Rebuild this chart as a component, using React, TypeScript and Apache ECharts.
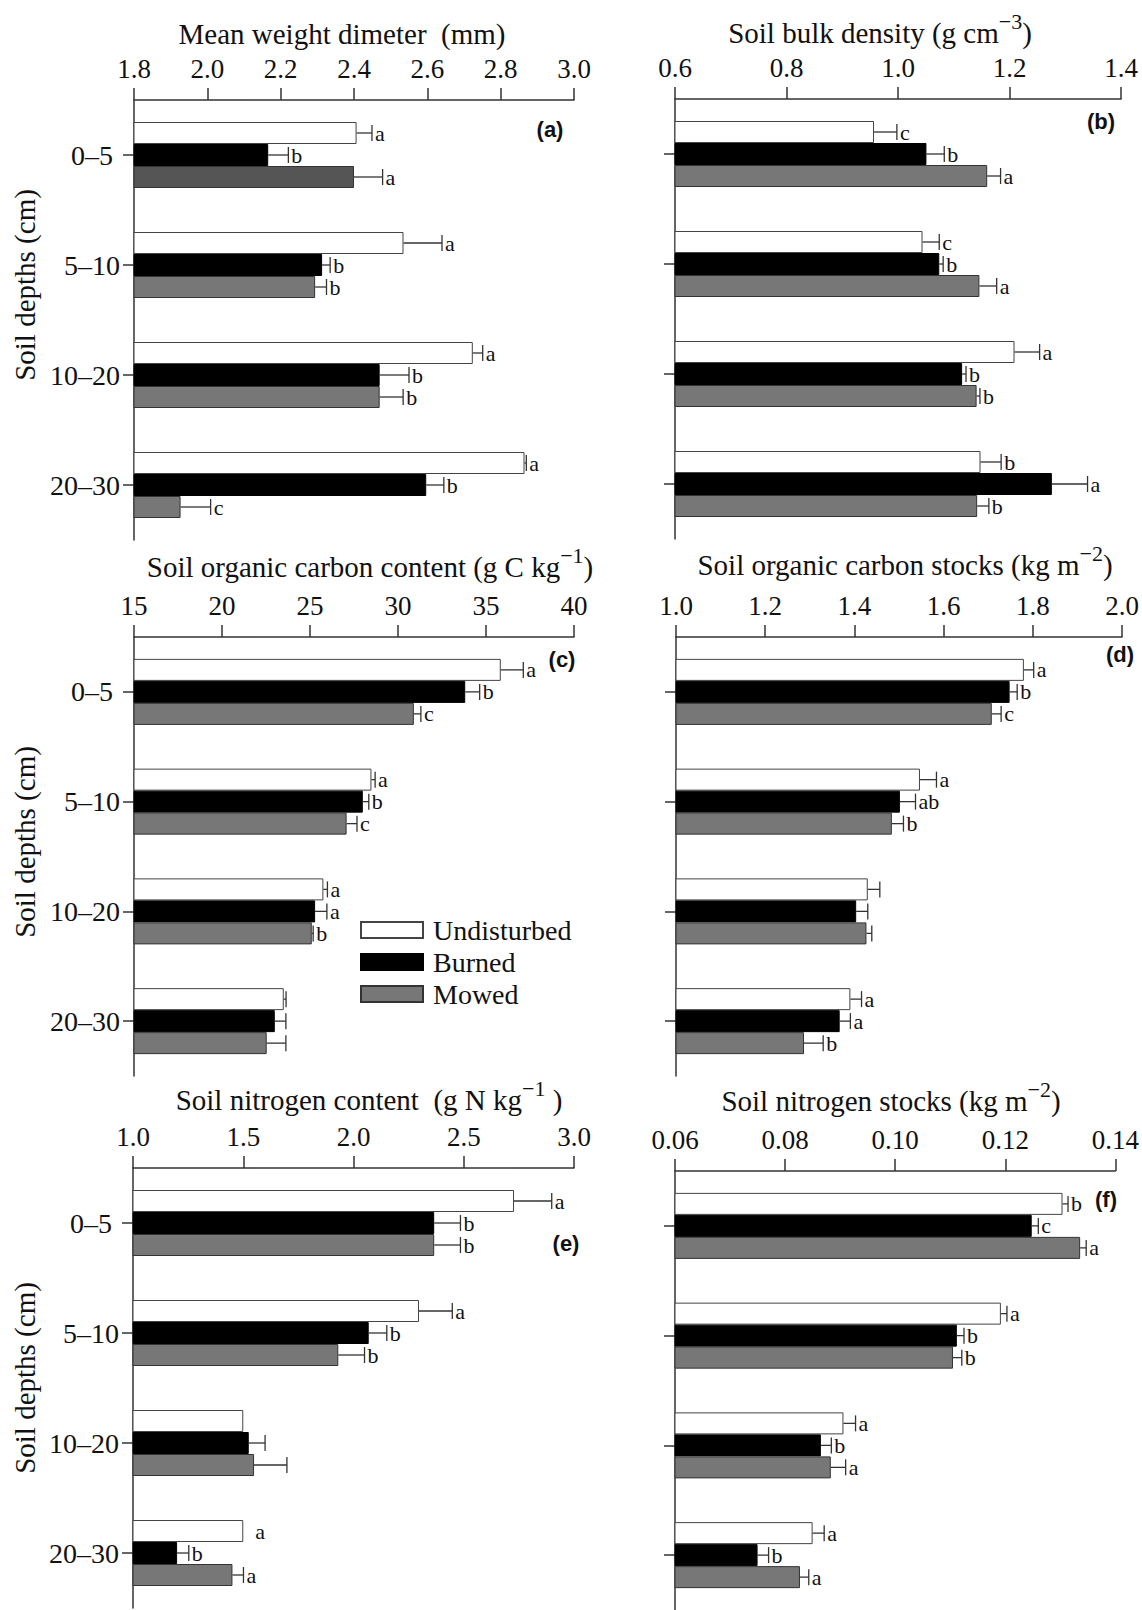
import React, { useEffect, useRef } from 'react';
import * as echarts from 'echarts';

// ---------- data ----------
const depths = ['0–5', '5–10', '10–20', '20–30'];
const treatments = ['Undisturbed', 'Burned', 'Mowed'];

// (a) Mean weight diameter (mm)  rows: Undisturbed, Burned, Mowed
const mwdMeans = [
  [2.407, 2.535, 2.724, 2.865],
  [2.166, 2.313, 2.470, 2.597],
  [2.400, 2.294, 2.470, 1.927],
];
const mwdErrors = [
  [0.042, 0.105, 0.027, 0.005],
  [0.055, 0.022, 0.080, 0.048],
  [0.078, 0.031, 0.064, 0.082],
];
const mwdLetters = [
  ['a', 'a', 'a', 'a'],
  ['b', 'b', 'b', 'b'],
  ['a', 'b', 'b', 'c'],
];

// (b) Soil bulk density
const bdMeans = [
  [0.957, 1.044, 1.209, 1.148],
  [1.051, 1.074, 1.115, 1.276],
  [1.160, 1.146, 1.141, 1.142],
];
const bdErrors = [
  [0.041, 0.030, 0.045, 0.037],
  [0.032, 0.007, 0.007, 0.064],
  [0.024, 0.031, 0.006, 0.021],
];
const bdLetters = [
  ['c', 'c', 'a', 'b'],
  ['b', 'b', 'b', 'a'],
  ['a', 'a', 'b', 'b'],
];

// (c) Soil organic carbon content
const socMeans = [
  [35.84, 28.49, 25.76, 23.51],
  [33.82, 28.0, 25.29, 23.0],
  [30.9, 27.08, 25.1, 22.54],
];
const socErrors = [
  [1.28, 0.21, 0.23, 0.13],
  [0.82, 0.34, 0.67, 0.63],
  [0.4, 0.59, 0.08, 1.09],
];
const socLetters = [
  ['a', 'a', 'a', ''],
  ['b', 'b', 'a', ''],
  ['c', 'c', 'b', ''],
];

// (d) Soil organic carbon stocks
const socsMeans = [
  [1.78, 1.547, 1.43, 1.391],
  [1.748, 1.502, 1.404, 1.367],
  [1.708, 1.484, 1.427, 1.287],
];
const socsErrors = [
  [0.022, 0.037, 0.027, 0.025],
  [0.017, 0.035, 0.026, 0.024],
  [0.021, 0.026, 0.012, 0.043],
];
const socsLetters = [
  ['a', 'a', '', 'a'],
  ['b', 'ab', '', 'a'],
  ['c', 'b', '', 'b'],
];

// (e) Soil nitrogen content
const snMeans = [
  [2.728, 2.297, 1.5, 1.5],
  [2.366, 2.069, 1.525, 1.2],
  [2.366, 1.931, 1.549, 1.451],
];
const snErrors = [
  [0.171, 0.151, 0, 0],
  [0.119, 0.082, 0.074, 0.053],
  [0.119, 0.119, 0.149, 0.05],
];
const snLetters = [
  ['a', 'a', '', 'a'],
  ['b', 'b', '', 'b'],
  ['b', 'b', '', 'a'],
];

// (f) Soil nitrogen stocks
const snsMeans = [
  [0.1304, 0.1192, 0.0906, 0.085],
  [0.1248, 0.1112, 0.0865, 0.075],
  [0.1336, 0.1105, 0.0883, 0.0827],
];
const snsErrors = [
  [0.001, 0.0011, 0.0022, 0.0021],
  [0.0012, 0.0013, 0.0019, 0.002],
  [0.0011, 0.0016, 0.0027, 0.0016],
];
const snsLetters = [
  ['b', 'a', 'a', 'a'],
  ['c', 'b', 'b', 'b'],
  ['a', 'b', 'a', 'a'],
];

// axis ranges
const axisMins = [1.8, 0.6, 15, 1.0, 1.0, 0.06];
const axisMaxs = [3.0, 1.4, 40, 2.0, 3.0, 0.14];
const axisIntervals = [0.2, 0.2, 5, 0.2, 0.5, 0.02];
const axisDecimals = [1, 1, 0, 1, 1, 2];

const panelTitles = [
  'Mean weight dimeter  (mm)',
  'Soil bulk density (g cm{sup|−3})',
  'Soil organic carbon content (g C kg{sup|−1})',
  'Soil organic carbon stocks (kg m{sup|−2})',
  'Soil nitrogen content  (g N kg{sup|−1} )',
  'Soil nitrogen stocks (kg m{sup|−2})',
];
const panelTags = ['(a)', '(b)', '(c)', '(d)', '(e)', '(f)'];
const yTitle = 'Soil depths (cm)';

// ---------- layout / style ----------
const SERIF = 'Liberation Serif, Times New Roman, Times, serif';
const SANS = 'Liberation Sans, Arial, Helvetica, sans-serif';
const BAR_W = 22;
const CAP = 16;

const gridBoxes = [
  { left: 134, top: 100, width: 440, height: 440 },
  { left: 675, top: 99, width: 446, height: 440 },
  { left: 134, top: 637, width: 440, height: 439 },
  { left: 676, top: 637, width: 446, height: 439 },
  { left: 133, top: 1168, width: 441, height: 440 },
  { left: 675, top: 1171, width: 446, height: 440 },
];
const titlePos = [
  [342, 34], [880, 33], [370, 567], [905, 565], [369, 1100], [891, 1101],
];
const tagPos = [
  [550, 129], [1101, 121], [562, 659], [1120, 654], [566, 1243], [1106, 1199],
];
const yTitlePos = [
  [25, 285], [25, 842], [25, 1378],
];

const fills = ['#ffffff', '#000000', '#777777'];
const borders = ['#444444', '#000000', '#333333'];

export default function App() {
  const ref = useRef<HTMLDivElement>(null);

  useEffect(() => {
    if (!ref.current) return;
    const chart = echarts.init(ref.current, null, { renderer: 'svg' });

    const means = [mwdMeans, bdMeans, socMeans, socsMeans, snMeans, snsMeans];
    const errors = [mwdErrors, bdErrors, socErrors, socsErrors, snErrors, snsErrors];
    const letters = [mwdLetters, bdLetters, socLetters, socsLetters, snLetters, snsLetters];

    const axisColor = '#333';

    const grid = gridBoxes.map((g) => ({ ...g, containLabel: false }));

    const xAxis = gridBoxes.map((_, i) => ({
      type: 'value',
      gridIndex: i,
      position: 'top',
      min: axisMins[i],
      max: axisMaxs[i],
      interval: axisIntervals[i],
      axisLine: { show: true, onZero: false, lineStyle: { color: axisColor, width: 1.5 } },
      axisTick: { show: true, inside: false, length: 12, lineStyle: { color: axisColor, width: 1.5 } },
      axisLabel: {
        margin: 18,
        fontSize: 27,
        fontFamily: SERIF,
        color: '#111',
        formatter: (v: number) => v.toFixed(axisDecimals[i]),
      },
      splitLine: { show: false },
    }));

    const yAxis = gridBoxes.map((_, i) => ({
      type: 'category',
      gridIndex: i,
      data: depths,
      inverse: true,
      axisLine: { show: true, onZero: false, lineStyle: { color: axisColor, width: 1.5 } },
      axisTick: { show: true, alignWithLabel: true, length: 11, lineStyle: { color: axisColor, width: 1.5 } },
      axisLabel: {
        show: i % 2 === 0,
        margin: 14,
        fontSize: 28,
        fontFamily: SERIF,
        color: '#111',
        formatter: (v: string) => (v === depths[0] ? v + '\u00a0' : v),
      },
      splitLine: { show: false },
    }));

    const series: any[] = [];
    gridBoxes.forEach((_, i) => {
      treatments.forEach((name, t) => {
        series.push({
          type: 'bar',
          name,
          xAxisIndex: i,
          yAxisIndex: i,
          barWidth: BAR_W,
          barGap: '0%',
          silent: true,
          itemStyle: { color: fills[t], borderColor: borders[t], borderWidth: 1 },
          data: means[i][t].map((v, c) =>
            i === 0 && t === 2 && c === 0
              ? { value: v, itemStyle: { color: '#555555' } }
              : v
          ),
        });
      });
      const data: number[][] = [];
      means[i].forEach((row, t) =>
        row.forEach((v, c) => data.push([v, c, errors[i][t][c], t]))
      );
      const lt = letters[i];
      series.push({
        type: 'custom',
        xAxisIndex: i,
        yAxisIndex: i,
        silent: true,
        z: 5,
        clip: false,
        encode: { x: 0, y: 1 },
        data,
        renderItem: (params: any, api: any) => {
          const v = api.value(0);
          const c = api.value(1);
          const e = api.value(2);
          const t = api.value(3);
          const p0 = api.coord([v, c]);
          const p1 = api.coord([v + e, c]);
          const y = p0[1] + (t - 1) * BAR_W;
          const children: any[] = [];
          const st = { stroke: '#333', lineWidth: 1.3 };
          if (e > 0) {
            children.push({ type: 'line', shape: { x1: p0[0], y1: y, x2: p1[0], y2: y }, style: st });
            children.push({
              type: 'line',
              shape: { x1: p1[0], y1: y - CAP / 2, x2: p1[0], y2: y + CAP / 2 },
              style: st,
            });
          }
          const letter = lt[t][c];
          if (letter) {
            children.push({
              type: 'text',
              x: p1[0] + (e > 0 ? 3 : 12),
              y: y,
              style: {
                text: letter,
                fontSize: 22,
                lineHeight: 20,
                fontFamily: SERIF,
                fill: '#111',
                textAlign: 'left',
                textVerticalAlign: 'middle',
              },
            });
          }
          return { type: 'group', children };
        },
      });
    });

    const graphic: any[] = [];
    panelTitles.forEach((txt, i) => {
      graphic.push({
        type: 'text',
        x: titlePos[i][0],
        y: titlePos[i][1],
        silent: true,
        style: {
          text: txt,
          fontSize: 29,
          fontFamily: SERIF,
          fill: '#111',
          lineHeight: 46,
          textAlign: 'center',
          textVerticalAlign: 'middle',
          rich: {
            sup: {
              fontSize: 22,
              fontFamily: SERIF,
              fill: '#111',
              lineHeight: 24,
              verticalAlign: 'top',
            },
          },
        },
      });
      graphic.push({
        type: 'text',
        x: tagPos[i][0],
        y: tagPos[i][1],
        silent: true,
        style: {
          text: panelTags[i],
          fontSize: 22,
          fontWeight: 'bold',
          fontFamily: SANS,
          fill: '#111',
          textAlign: 'center',
          textVerticalAlign: 'middle',
        },
      });
    });
    yTitlePos.forEach((p) => {
      graphic.push({
        type: 'text',
        x: p[0],
        y: p[1],
        rotation: Math.PI / 2,
        silent: true,
        style: {
          text: yTitle,
          fontSize: 29,
          fontFamily: SERIF,
          fill: '#111',
          textAlign: 'center',
          textVerticalAlign: 'middle',
        },
      });
    });

    chart.setOption({
      animation: false,
      backgroundColor: '#ffffff',
      grid,
      xAxis,
      yAxis,
      series,
      graphic,
      legend: {
        data: treatments,
        orient: 'vertical',
        left: 360,
        top: 916,
        itemWidth: 62,
        itemHeight: 16,
        itemGap: 4,
        padding: 0,
        icon: 'rect',
        selectedMode: false,
        textStyle: { fontSize: 28, fontFamily: SERIF, color: '#111', padding: [0, 0, 0, 5] },
      },
    });

    return () => chart.dispose();
  }, []);

  return (
    <div
      ref={ref}
      style={{ position: 'absolute', left: 0, top: 0, width: 1142, height: 1610, background: '#fff' }}
    />
  );
}
